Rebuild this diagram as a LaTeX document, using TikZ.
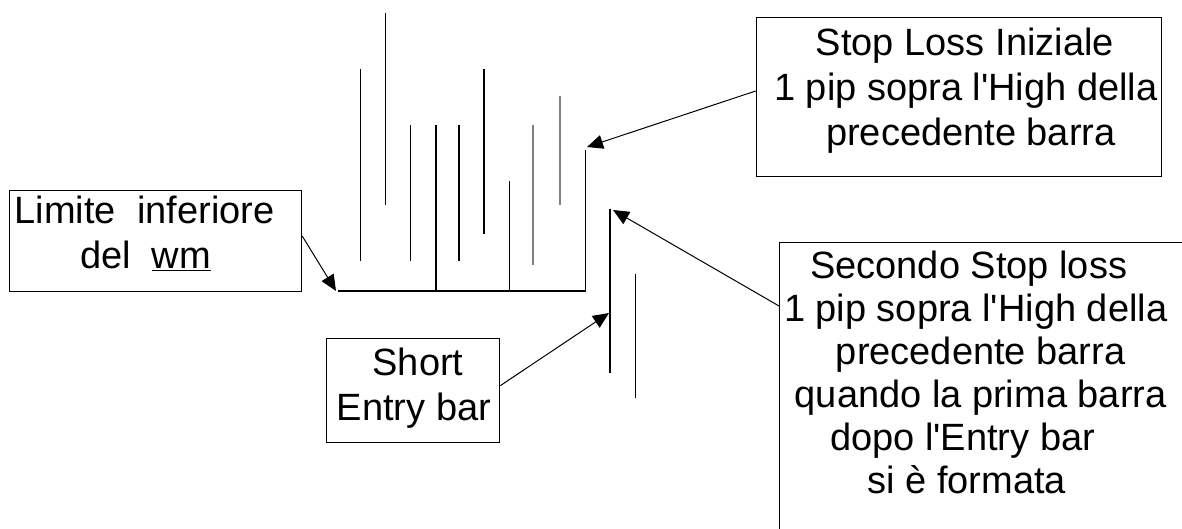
\documentclass[tikz,border=0pt]{standalone}
\usepackage{fontspec}
\setmainfont{Liberation Sans}[Ligatures=TeXOff]
\usetikzlibrary{arrows.meta,calc}
\tikzset{
  box/.style={draw=black, line width=1.3pt, inner sep=0pt, anchor=north west,
    font=\fontsize{38}{45}\selectfont},
  bar/.style={draw=black, line width=1.6pt},
  graybar/.style={draw=black!50, line width=1.6pt},
  arr/.style={draw=black, line width=1pt, -{Triangle[length=16pt,width=14pt]}}
}
\begin{document}
\begin{tikzpicture}[x=1pt,y=-1pt]
\useasboundingbox (0,0) rectangle (1182,529);
\clip (0,0) rectangle (1182,529);
\fill[white] (0,0) rectangle (1182,529);
% bars
\draw[bar] (360.3,69) -- (360.3,261);
\draw[bar] (385.3,13) -- (385.3,205);
\draw[bar] (410.3,125) -- (410.3,261);
\draw[bar] (435.7,125) -- (435.7,291);
\draw[bar] (459,125) -- (459,261);
\draw[bar] (484,69) -- (484,234);
\draw[bar] (509.3,181) -- (509.3,291);
\draw[graybar] (532.7,125) -- (532.7,265);
\draw[graybar] (559.7,96) -- (559.7,205);
\draw[bar] (338,291) -- (585.3,291) -- (585.3,150);
\draw[bar] (610,209) -- (610,373);
\draw[bar] (635.3,274) -- (635.3,398);
% arrow targets
\coordinate (tipSL) at (587,147);
\coordinate (tipS2) at (613,210);
\coordinate (tipEN) at (609,313);
\coordinate (tipWM) at (336,291);
% boxes
\node[box, minimum width=292pt] (lim) at (9,190)
  {\begin{tabular}{@{}c@{}}
   \rule{0pt}{33pt}Limite\ \ inferiore\\
   \hspace*{2pt}del\ \ \underline{wm}\rule[-23pt]{0pt}{0pt}
   \end{tabular}\hspace*{22pt}};
\node[box, minimum width=405pt] (sl) at (755.7,17)
  {\hspace*{14pt}\begin{tabular}{@{}c@{}}
   \rule{0pt}{38pt}\hspace*{-2pt}Stop Loss Iniziale\\
   1 pip sopra l'High della\\
   \hspace*{10pt}precedente barra\rule[-30.7pt]{0pt}{0pt}
   \end{tabular}};
\node[box, minimum width=173.3pt] (sh) at (325.7,338)
  {\hspace*{2pt}\begin{tabular}{@{}c@{}}
   \rule{0pt}{37pt}\hspace*{8pt}Short\\
   Entry bar\rule[-22pt]{0pt}{0pt}
   \end{tabular}};
\node[box, minimum width=430pt, font=\fontsize{38}{43}\selectfont] (s2) at (779,242)
  {\begin{tabular}{@{}c@{}}
   \rule{0pt}{36pt}\hspace*{-14pt}Secondo Stop loss\\
   1 pip sopra l'High della\\
   \hspace*{10pt}precedente barra\\
   \hspace*{10pt}quando la prima barra\\
   \hspace*{-26pt}dopo l'Entry bar\\
   \hspace*{-18pt}si è formata\rule[-108pt]{0pt}{0pt}
   \end{tabular}\hspace*{38pt}};
% connectors
\draw[arr] ([yshift=6pt]sl.west) -- (tipSL);
\draw[arr] ([yshift=-64pt]s2.north west) -- (tipS2);
\draw[arr] ([yshift=5pt]sh.east) -- (tipEN);
\draw[arr] ([yshift=5pt]lim.east) -- (tipWM);
\end{tikzpicture}
\end{document}
